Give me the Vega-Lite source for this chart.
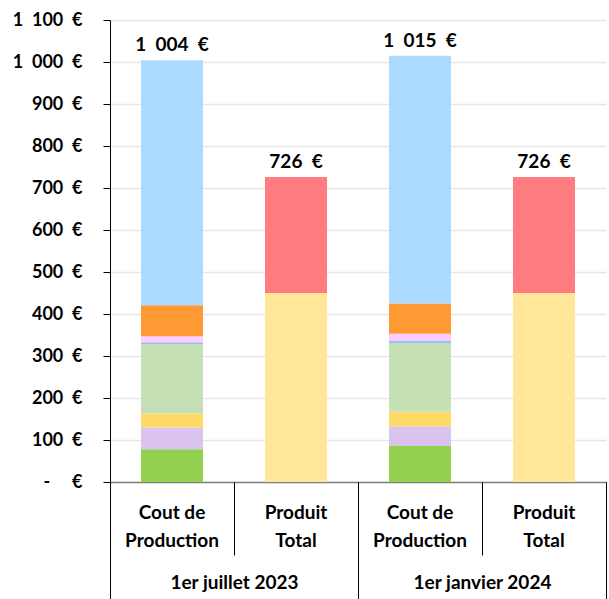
{
  "$schema": "https://vega.github.io/schema/vega-lite/v6.json",
  "width": 496,
  "height": 462,
  "autosize": {"type": "none"},
  "padding": {"left": 110, "top": 20, "right": 3, "bottom": 117},
  "config": {
    "view": {"stroke": null},
    "font": "Lato"
  },
  "data": {"values": [
    {"periode": "1er juillet 2023", "barre": "Cout de Production 2023", "poste": "Poste 1", "ordre": 1, "valeur": 78},
    {"periode": "1er juillet 2023", "barre": "Cout de Production 2023", "poste": "Poste 2", "ordre": 2, "valeur": 52},
    {"periode": "1er juillet 2023", "barre": "Cout de Production 2023", "poste": "Poste 3", "ordre": 3, "valeur": 33},
    {"periode": "1er juillet 2023", "barre": "Cout de Production 2023", "poste": "Poste 4", "ordre": 4, "valeur": 165},
    {"periode": "1er juillet 2023", "barre": "Cout de Production 2023", "poste": "Poste 5", "ordre": 5, "valeur": 5},
    {"periode": "1er juillet 2023", "barre": "Cout de Production 2023", "poste": "Poste 6", "ordre": 6, "valeur": 14},
    {"periode": "1er juillet 2023", "barre": "Cout de Production 2023", "poste": "Poste 7", "ordre": 7, "valeur": 74},
    {"periode": "1er juillet 2023", "barre": "Cout de Production 2023", "poste": "Poste 8", "ordre": 8, "valeur": 583},
    {"periode": "1er juillet 2023", "barre": "Produit Total 2023", "poste": "Produit 1", "ordre": 9, "valeur": 450},
    {"periode": "1er juillet 2023", "barre": "Produit Total 2023", "poste": "Produit 2", "ordre": 10, "valeur": 276},
    {"periode": "1er janvier 2024", "barre": "Cout de Production 2024", "poste": "Poste 1", "ordre": 1, "valeur": 86},
    {"periode": "1er janvier 2024", "barre": "Cout de Production 2024", "poste": "Poste 2", "ordre": 2, "valeur": 47},
    {"periode": "1er janvier 2024", "barre": "Cout de Production 2024", "poste": "Poste 3", "ordre": 3, "valeur": 34},
    {"periode": "1er janvier 2024", "barre": "Cout de Production 2024", "poste": "Poste 4", "ordre": 4, "valeur": 163},
    {"periode": "1er janvier 2024", "barre": "Cout de Production 2024", "poste": "Poste 5", "ordre": 5, "valeur": 7},
    {"periode": "1er janvier 2024", "barre": "Cout de Production 2024", "poste": "Poste 6", "ordre": 6, "valeur": 16},
    {"periode": "1er janvier 2024", "barre": "Cout de Production 2024", "poste": "Poste 7", "ordre": 7, "valeur": 72},
    {"periode": "1er janvier 2024", "barre": "Cout de Production 2024", "poste": "Poste 8", "ordre": 8, "valeur": 590},
    {"periode": "1er janvier 2024", "barre": "Produit Total 2024", "poste": "Produit 1", "ordre": 9, "valeur": 450},
    {"periode": "1er janvier 2024", "barre": "Produit Total 2024", "poste": "Produit 2", "ordre": 10, "valeur": 276}
  ]},
  "layer": [
    {
      "mark": {"type": "bar"},
      "encoding": {
        "x": {
          "field": "barre", "type": "nominal",
          "sort": ["Cout de Production 2023", "Produit Total 2023", "Cout de Production 2024", "Produit Total 2024"],
          "scale": {"paddingInner": 0.5, "paddingOuter": 0.25},
          "axis": {
            "orient": "bottom", "title": null, "labelAngle": 0,
            "domainColor": "#808080", "domainWidth": 1.5,
            "ticks": false, "labelPadding": 21, "labelBaseline": "top",
            "labelFont": "Lato", "labelFontWeight": "bold", "labelFontSize": 19, "labelColor": "#000000",
            "labelLineHeight": 28,
            "labelExpr": "indexof(datum.value, 'Cout') >= 0 ? ['Cout de', 'Production'] : ['Produit', 'Total']"
          }
        },
        "y": {
          "aggregate": "sum", "field": "valeur", "type": "quantitative",
          "scale": {"domain": [0, 1100], "nice": false},
          "axis": {
            "title": null,
            "values": [0, 100, 200, 300, 400, 500, 600, 700, 800, 900, 1000, 1100],
            "domainColor": "#000000", "domainWidth": 1,
            "tickColor": "#000000", "tickSize": 7, "labelPadding": 21,
            "gridColor": "#E6E6E6", "gridWidth": 1.5,
            "labelFont": "Lato", "labelFontWeight": "bold", "labelFontSize": 18, "labelColor": "#000000",
            "labelExpr": "datum.value == 0 ? '-\u00a0\u00a0\u00a0\u00a0\u00a0€' : replace(format(datum.value, ',.0f'), ',', '\u00a0\u00a0') + '\u00a0\u00a0€'"
          }
        },
        "color": {
          "field": "poste", "type": "nominal", "legend": null,
          "scale": {
            "domain": ["Poste 1", "Poste 2", "Poste 3", "Poste 4", "Poste 5", "Poste 6", "Poste 7", "Poste 8", "Produit 1", "Produit 2"],
            "range": ["#92D050", "#DAC3EC", "#FFD966", "#C5E0B4", "#9DC3E6", "#FFCCFF", "#FF9933", "#ADDBFF", "#FFE699", "#FF7C80"]
          }
        },
        "order": {"field": "ordre", "type": "quantitative", "sort": "ascending"}
      }
    },
    {
      "transform": [
        {"aggregate": [{"op": "sum", "field": "valeur", "as": "total"}], "groupby": ["barre"]},
        {"calculate": "replace(format(datum.total, ',.0f'), ',', '\u00a0\u00a0') + '\u00a0\u00a0€'", "as": "etiquette"}
      ],
      "mark": {"type": "text", "font": "Lato", "fontWeight": "bold", "fontSize": 19, "color": "#000000", "baseline": "alphabetic", "dy": -9},
      "encoding": {
        "x": {
          "field": "barre", "type": "nominal",
          "sort": ["Cout de Production 2023", "Produit Total 2023", "Cout de Production 2024", "Produit Total 2024"],
          "scale": {"paddingInner": 0.5, "paddingOuter": 0.25},
          "axis": null
        },
        "y": {"field": "total", "type": "quantitative"},
        "text": {"field": "etiquette", "type": "nominal"}
      }
    },
    {
      "mark": {"type": "point", "opacity": 0},
      "encoding": {
        "x": {
          "datum": 0, "type": "quantitative",
          "scale": {"domain": [0, 4], "nice": false, "zero": false},
          "axis": {
            "orient": "bottom", "title": null, "values": [0, 1, 2, 3, 4],
            "labels": false, "domain": false, "grid": false,
            "tickSize": 73, "tickColor": "#000000", "tickWidth": 1
          }
        }
      }
    },
    {
      "mark": {"type": "point", "opacity": 0},
      "encoding": {
        "x": {
          "datum": 0, "type": "quantitative",
          "scale": {"domain": [0, 2], "nice": false, "zero": false},
          "axis": {
            "orient": "bottom", "title": null, "values": [0, 1, 2],
            "labels": false, "domain": false, "grid": false,
            "tickSize": 117, "tickColor": "#000000", "tickWidth": 1
          }
        }
      }
    },
    {
      "transform": [{"aggregate": [{"op": "count", "as": "n"}], "groupby": ["periode"]}],
      "mark": {"type": "point", "opacity": 0},
      "encoding": {
        "x": {
          "field": "periode", "type": "nominal", "sort": ["1er juillet 2023", "1er janvier 2024"],
          "scale": {"paddingInner": 0, "paddingOuter": 0},
          "axis": {
            "orient": "bottom", "title": null, "labelAngle": 0, "domain": false, "ticks": false,
            "labelPadding": 91, "labelBaseline": "top",
            "labelFont": "Lato", "labelFontWeight": "bold", "labelFontSize": 19, "labelColor": "#000000"
          }
        }
      }
    }
  ],
  "resolve": {"scale": {"x": "independent"}, "axis": {"x": "independent"}}
}
